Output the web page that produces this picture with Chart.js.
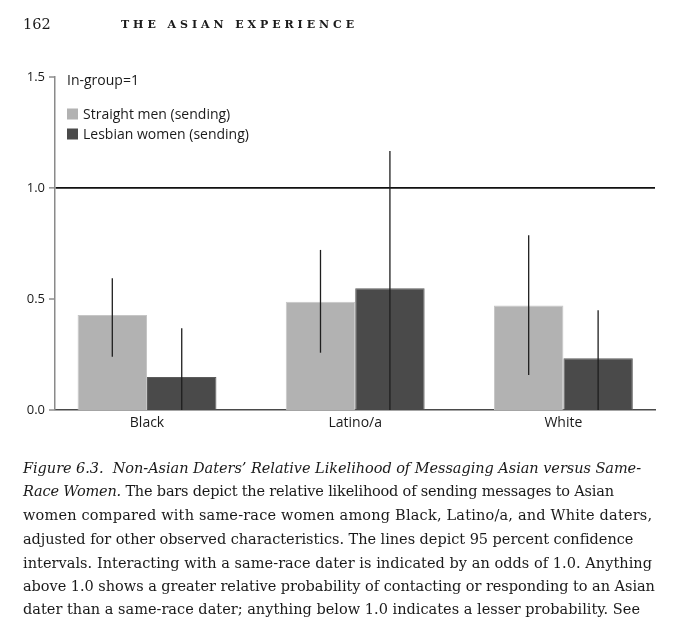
<!DOCTYPE html>
<html>
<head>
<meta charset="utf-8">
<script src="https://cdn.jsdelivr.net/npm/chart.js@4/dist/chart.umd.min.js"></script>
<style>
  html, body { margin: 0; padding: 0; background: #fff; }
  body { width: 690px; height: 624px; position: relative; overflow: hidden; }
  #chart { position: absolute; left: 0; top: 0; }
  .hdr { position: absolute; font-family: "DejaVu Serif", serif; color: #1a1a1a; white-space: nowrap; line-height: 20px; }
  .cap { position: absolute; left: 23px; font-family: "DejaVu Serif", serif; font-size: 14.5px; color: #1a1a1a; white-space: nowrap; line-height: 20px; }
  .cap i { font-style: italic; }
</style>
</head>
<body>
<canvas id="chart" width="690" height="624"></canvas>
<div class="hdr" id="pg" style="left:23px; top:14px; font-size:14.5px;">162</div>
<div class="hdr" id="rt" style="left:121px; top:15px; font-size:11px; font-weight:bold; letter-spacing:3px;">THE ASIAN EXPERIENCE</div>

<div class="cap" data-w="618" style="top:458px;"><i>Figure 6.3.&nbsp; Non-Asian Daters’ Relative Likelihood of Messaging Asian versus Same-</i></div>
<div class="cap" data-w="591" style="top:481px;"><i>Race Women.</i> The bars depict the relative likelihood of sending messages to Asian</div>
<div class="cap" data-w="629" style="top:505px;">women compared with same-race women among Black, Latino/a, and White daters,</div>
<div class="cap" data-w="610" style="top:529px;">adjusted for other observed characteristics. The lines depict 95 percent confidence</div>
<div class="cap" data-w="629" style="top:553px;">intervals. Interacting with a same-race dater is indicated by an odds of 1.0. Anything</div>
<div class="cap" data-w="632" style="top:576px;">above 1.0 shows a greater relative probability of contacting or responding to an Asian</div>
<div class="cap" data-w="617" style="top:599px;">dater than a same-race dater; anything below 1.0 indicates a lesser probability. See</div>

<script>
// ---- data ----
const categories = ['Black', 'Latino/a', 'White'];
const seriesLabels = ['Straight men (sending)', 'Lesbian women (sending)'];
const straightMen = [0.428, 0.488, 0.471];
const lesbianWomen = [0.149, 0.548, 0.233];
const straightLow = [0.240, 0.258, 0.158];
const straightHigh = [0.593, 0.721, 0.787];
const lesbianLow = [0.0, 0.0, 0.0];
const lesbianHigh = [0.368, 1.167, 0.449];
const yTicks = [0, 0.5, 1.0, 1.5];
const legendTitle = 'In-group=1';
const referenceValue = 1.0;

// fit caption line widths
document.querySelectorAll('.cap').forEach(el => {
  const target = parseFloat(el.dataset.w);
  const w = el.getBoundingClientRect().width;
  const n = el.textContent.length;
  if (n > 1) el.style.letterSpacing = ((target - w) / (n - 1)).toFixed(3) + 'px';
});
(function(){
  const el = document.getElementById('rt');
  const target = 237;
  const w = el.getBoundingClientRect().width;
  const n = el.textContent.length;
  const cur = 3;
  el.style.letterSpacing = (cur + (target - w) / n).toFixed(3) + 'px';
})();

const ciSets = [[straightLow, straightHigh], [lesbianLow, lesbianHigh]];

const errorBars = {
  id: 'errorBars',
  afterDatasetsDraw(chart) {
    const {ctx, chartArea, scales: {y}} = chart;
    ctx.save();
    ctx.beginPath();
    ctx.rect(chartArea.left, chartArea.top, chartArea.right - chartArea.left, chartArea.bottom - chartArea.top);
    ctx.clip();
    ctx.strokeStyle = '#1e1e1e';
    ctx.lineWidth = 1.3;
    chart.data.datasets.forEach((ds, di) => {
      const meta = chart.getDatasetMeta(di);
      const [lo, hi] = ciSets[di];
      meta.data.forEach((bar, i) => {
        ctx.beginPath();
        ctx.moveTo(bar.x, y.getPixelForValue(lo[i]));
        ctx.lineTo(bar.x, y.getPixelForValue(hi[i]));
        ctx.stroke();
      });
    });
    ctx.restore();
  }
};

const customLegend = {
  id: 'customLegend',
  afterDraw(chart) {
    const {ctx, chartArea} = chart;
    const x0 = chartArea.left + 12;
    ctx.save();
    ctx.font = '14px "Open Sans"';
    ctx.fillStyle = '#1a1a1a';
    ctx.textBaseline = 'middle';
    ctx.fillText(legendTitle, x0, chartArea.top + 4);
    chart.data.datasets.forEach((ds, i) => {
      const cy = chartArea.top + 37 + i * 20;
      ctx.fillStyle = ds.backgroundColor;
      ctx.fillRect(x0, cy - 5.5, 11, 11);
      ctx.fillStyle = '#1a1a1a';
      ctx.fillText(ds.label, x0 + 16, cy + 1);
    });
    ctx.restore();
  }
};

const toPoints = arr => arr.map((v, i) => ({x: i + 1, y: v}));

new Chart(document.getElementById('chart'), {
  type: 'bar',
  data: {
    datasets: [
      { label: seriesLabels[0], data: toPoints(straightMen), backgroundColor: '#b2b2b2', borderColor: '#c6c6c6', borderWidth: 1, borderSkipped: 'bottom' },
      { label: seriesLabels[1], data: toPoints(lesbianWomen), backgroundColor: '#4a4a4a', borderColor: '#5c5c5c', borderWidth: 1, borderSkipped: 'bottom' }
    ]
  },
  options: {
    responsive: false,
    devicePixelRatio: 1,
    animation: false,
    events: [],
    barPercentage: 1,
    categoryPercentage: 0.667,
    layout: { padding: { top: 77, right: 35, bottom: 184, left: 0 } },
    plugins: { legend: { display: false }, tooltip: { enabled: false } },
    scales: {
      x: {
        type: 'linear',
        offset: false,
        min: 0.558,
        max: 3.44,
        afterFit(s) { s.height = 30; },
        afterBuildTicks(s) { s.ticks = categories.map((c, i) => ({value: i + 1})); },
        grid: { display: false, drawTicks: false, offset: false },
        border: { display: true, color: '#4a4a4a', width: 1.5 },
        ticks: {
          autoSkip: false, maxRotation: 0, padding: 5,
          color: '#1a1a1a',
          font: { family: '"Open Sans"', size: 14 },
          callback: v => categories[Math.round(v) - 1]
        }
      },
      y: {
        min: 0,
        max: 1.5,
        afterFit(s) { s.width = 55; },
        afterBuildTicks(s) { s.ticks = yTicks.map(v => ({value: v})); },
        grid: {
          drawOnChartArea: true,
          drawTicks: true,
          tickLength: 6,
          color: ctx => (ctx.tick && ctx.tick.value === referenceValue) ? '#111' : 'rgba(0,0,0,0)',
          lineWidth: ctx => (ctx.tick && ctx.tick.value === referenceValue) ? 1.8 : 0,
          tickColor: '#555',
          tickWidth: 1
        },
        border: { display: true, color: '#8a8a8a', width: 1.5 },
        ticks: {
          padding: 4,
          color: '#1a1a1a',
          font: { family: '"Open Sans"', size: 13 },
          callback: v => Number(v).toFixed(1)
        }
      }
    }
  },
  plugins: [errorBars, customLegend]
});
</script>
</body>
</html>
